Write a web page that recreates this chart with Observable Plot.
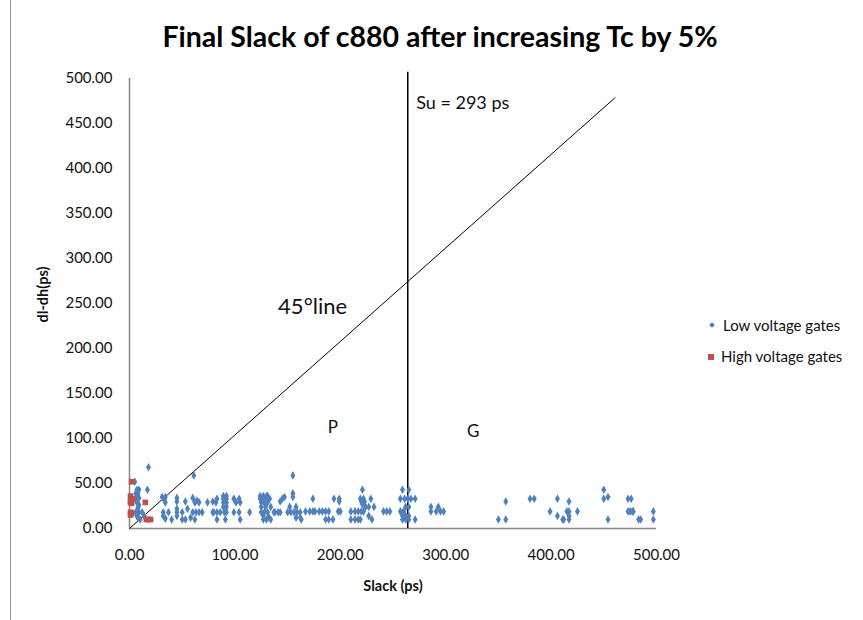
<!DOCTYPE html>
<html><head><meta charset="utf-8">
<script src="https://cdn.jsdelivr.net/npm/d3@7"></script>
<script src="https://cdn.jsdelivr.net/npm/@observablehq/plot@0.6"></script>
<style>
body{margin:0;background:#fff;font-family:Lato,"Open Sans",sans-serif;}
#wrap{position:relative;width:863px;height:620px;overflow:hidden;}
#title{position:absolute;left:0;width:880px;top:19px;text-align:center;font-weight:bold;font-size:28.5px;color:#000;}
#frame{position:absolute;left:10px;top:0;height:620px;border-left:1px solid #999;}
#legend{position:absolute;left:708px;top:316px;font-size:15px;color:#111;}
#legend div{height:31px;display:flex;align-items:flex-start;}
#legend span.m{display:inline-block;margin-right:7px;margin-top:7px;}
</style></head>
<body><div id="wrap"><div id="frame"></div><div id="title">Final Slack of c880 after increasing Tc by 5%</div>
<div id="legend"><div><span class="m" style="width:4px;height:4px;background:#4F81BD;transform:rotate(45deg);margin-left:2px;margin-right:9px"></span>Low voltage gates</div>
<div><span class="m" style="width:6px;height:6px;background:#C0504D"></span>High voltage gates</div></div>
<div id="chart"></div></div>
<script>
const xTicks = [0,100,200,300,400,500];
const yTicks = [0,50,100,150,200,250,300,350,400,450,500];
const lowX = [5,7,9,6,8,6,9,7,9,8,6,9,7,8,10,12,14,17,18,
31,34,33,34,32,37,32,34,40,
45,45,45,45,45,50,53,55,50,53,
61,60,64,62,66,60,63,66,69,58,62,
74,79,79,82,83,80,83,86,83,
89,92,89,92,89,92,89,92,90,92,91,
99,101,104,105,99,104,105,
114,
124,127,130,131,124,127,130,133,125,128,131,125,129,134,125,128,131,138,127,132,127,130,134,
137,141,143,143,145,147,
155,155,155,150,153,156,159,162,152,158,158,162,163,167,171,
174,174,176,180,183,186,189,186,189,193,194,
199,199,198,200,
210,210,214,217,220,222,214,217,219,
221,219,222,220,221,223,224,227,232,229,227,230,
241,244,247,
257,260,259,265,257,261,264,267,271,262,265,259,262,265,259,262,265,271,
286,293,286,291,295,298,
357,350,357,
380,384,399,406,406,411,412,415,417,417,417,417,425,
450,450,454,454,
473,476,473,475,477,478,483,485,497,497];
const lowY = [52,43,43,39,39,34,34,29,26,23,18,18,14,12,10,18,14,43,68,
35,35,32,29,18,18,14,11,10,
34,30,22,18,14,18,30,22,10,10,
59,34,31,29,29,18,18,18,18,12,10,
29,30,18,29,33,18,18,18,10,
36,36,33,33,29,29,24,24,18,18,10,
33,29,33,29,18,18,10,
18,
36,36,36,36,33,33,33,33,29,29,29,24,24,24,18,18,18,18,14,13,10,10,10,
18,18,18,30,33,35,
59,39,35,18,18,18,18,18,24,24,12,12,10,19,19,
33,19,19,19,19,19,19,10,10,10,33,
33,30,19,19,
19,10,19,19,19,19,10,10,10,
43,33,33,30,27,30,24,24,24,33,14,10,
19,19,19,
19,19,43,43,33,33,33,33,33,24,24,14,14,14,10,10,10,10,
24,24,19,19,19,19,
30,10,10,
33,33,19,33,14,10,10,19,19,14,10,30,19,
43,33,35,10,
33,33,19,19,19,19,10,10,19,10];
const highX = [2,1,3,1,2,1,15,1,2,1,16,18,20];
const highY = [52,36,33,29,28,30,29,18,17,15,10,10,10];
const suX = 264;
const lineEnd = [461,479];
const startNotes = [
  {x:272,y:473,t:"Su = 293 ps",s:18},
  {x:141,y:246,t:"45°line",s:22}
];
const midNotes = [
  {x:193,y:112,t:"P",s:17},
  {x:326,y:108,t:"G",s:17}
];
const low = lowX.map((x,i)=>({x,y:lowY[i]}));
const high = highX.map((x,i)=>({x,y:highY[i]}));
const fmt = d=>d.toFixed(2);
const chart = Plot.plot({
  width:863,height:620,
  marginLeft:129,marginRight:207,marginTop:78,marginBottom:92,
  style:{fontFamily:"Lato, 'Open Sans', sans-serif",fontSize:"15px",color:"#111",background:"transparent"},
  x:{domain:[0,500]},
  y:{domain:[0,500]},
  marks:[
    Plot.axisX({ticks:xTicks,tickFormat:fmt,tickSize:0,tickPadding:21,label:null,fontSize:15}),
    Plot.axisY({ticks:yTicks,tickFormat:fmt,tickSize:0,tickPadding:17,label:null,fontSize:15}),
    Plot.ruleY([0],{stroke:"#888",strokeWidth:1.5}),
    Plot.ruleX([0],{y1:0,y2:500,stroke:"#888",strokeWidth:1.5}),
    Plot.text(["Slack (ps)"],{frameAnchor:"bottom",dy:62,fontWeight:"bold",fontSize:14.5}),
    Plot.text([{y:260}],{y:"y",text:()=>"dl-dh(ps)",frameAnchor:"left",textAnchor:"middle",dx:-86,rotate:-90,fontWeight:"bold",fontSize:14.5}),
    Plot.link([{x1:0,y1:0,x2:lineEnd[0],y2:lineEnd[1]}],{x1:"x1",y1:"y1",x2:"x2",y2:"y2",stroke:"#000",strokeWidth:1}),
    Plot.ruleX([suX],{y1:0,y2:507,stroke:"#000",strokeWidth:1.5}),
    Plot.dot(low,{x:"x",y:"y",symbol:"diamond",r:2.6,fill:"#4F81BD",stroke:null}),
    Plot.dot(high,{x:"x",y:"y",symbol:"square",r:3.2,fill:"#C0504D",stroke:null}),
    Plot.text(startNotes,{x:"x",y:"y",text:"t",fontSize:"s",textAnchor:"start",fill:"#111"}),
    Plot.text(midNotes,{x:"x",y:"y",text:"t",fontSize:"s",textAnchor:"middle",fill:"#111"})
  ]
});
document.getElementById("chart").appendChild(chart);
</script></body></html>
